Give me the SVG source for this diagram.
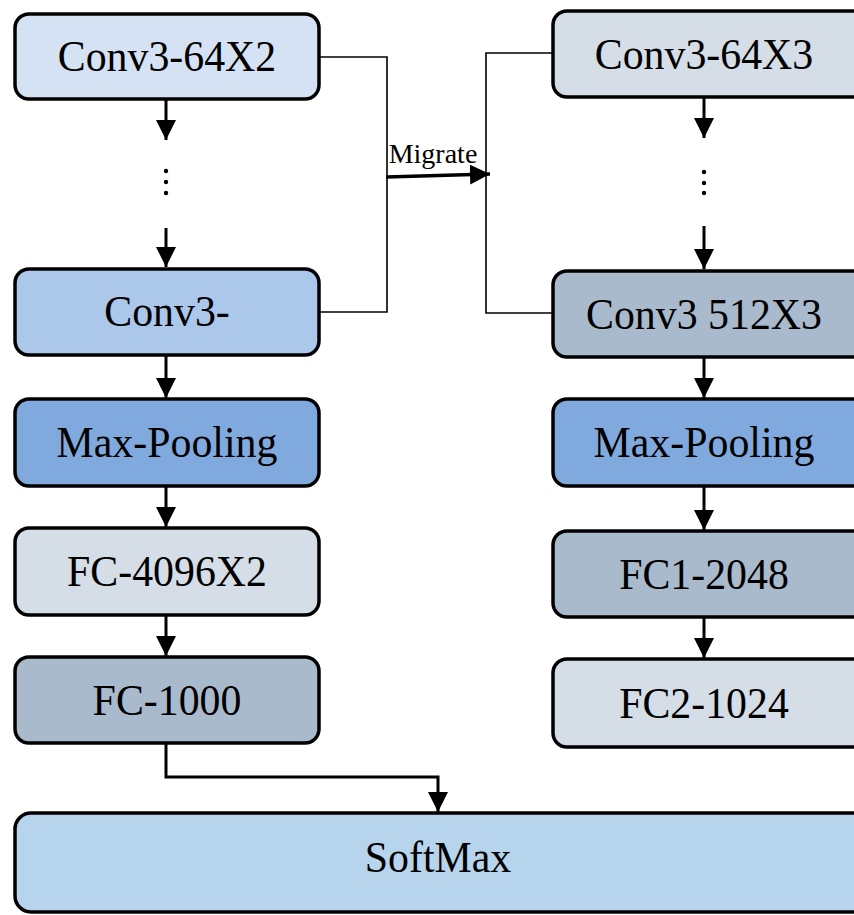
<svg xmlns="http://www.w3.org/2000/svg" width="854" height="915" viewBox="0 0 854 915" font-family="Liberation Serif, Times New Roman, serif">
<style>
.box{stroke:#000;stroke-width:3.5}
.t{font-size:45px;text-anchor:middle;fill:#000}
.c1{fill:#d5e2f3}.c2{fill:#abc7ea}.c3{fill:#80aadd}.c4{fill:#d5dde7}.c5{fill:#a9bacd}.c6{fill:#b6d4ec}
.ar{stroke:#000;stroke-width:3;fill:none}
.thin{stroke:#000;stroke-width:1.6;fill:none}
</style>
<defs>
<marker id="ah" markerUnits="userSpaceOnUse" markerWidth="20" markerHeight="20" viewBox="0 0 20 20" refX="20" refY="10" orient="auto">
<path d="M0,0 L20,10 L0,20 Z" fill="#000"/>
</marker>
</defs>
<g id="connectors">
<line class="ar" x1="166" y1="99" x2="166" y2="140" marker-end="url(#ah)"/>
<line class="ar" x1="166" y1="228" x2="166" y2="267" marker-end="url(#ah)"/>
<line class="ar" x1="166" y1="355" x2="166" y2="398" marker-end="url(#ah)"/>
<line class="ar" x1="166" y1="486" x2="166" y2="527" marker-end="url(#ah)"/>
<line class="ar" x1="166" y1="615" x2="166" y2="656" marker-end="url(#ah)"/>
<polyline class="ar" points="166,743 166,777 438,777 438,812" marker-end="url(#ah)"/>
<line class="ar" x1="704" y1="97" x2="704" y2="138" marker-end="url(#ah)"/>
<line class="ar" x1="704" y1="226" x2="704" y2="269" marker-end="url(#ah)"/>
<line class="ar" x1="704" y1="357" x2="704" y2="398" marker-end="url(#ah)"/>
<line class="ar" x1="704" y1="486" x2="704" y2="530" marker-end="url(#ah)"/>
<line class="ar" x1="704" y1="617" x2="704" y2="658" marker-end="url(#ah)"/>
<polyline class="thin" points="319,57 387,57 387,312 319,312"/>
<polyline class="thin" points="553,53 486,53 486,313 553,313"/>
<line x1="386" y1="177" x2="490" y2="174" stroke="#000" stroke-width="3.5" marker-end="url(#ah)"/>
<text x="433" y="163" font-family="Liberation Serif, Times New Roman, serif" font-size="28" text-anchor="middle">Migrate</text>
<g fill="#000">
<circle cx="166" cy="171" r="2.2"/><circle cx="166" cy="182" r="2.2"/><circle cx="166" cy="193" r="2.2"/>
<circle cx="704" cy="172" r="2.2"/><circle cx="704" cy="183" r="2.2"/><circle cx="704" cy="193" r="2.2"/>
</g>
</g>
<g id="n_conv3_64x2"><rect class="box c1" x="15" y="14" width="304" height="85" rx="14"/><text class="t" font-family="Liberation Serif, Times New Roman, serif" transform="translate(167,71) scale(0.93,1)">Conv3-64X2</text></g>
<g id="n_conv3"><rect class="box c2" x="15" y="269" width="304" height="86" rx="14"/><text class="t" font-family="Liberation Serif, Times New Roman, serif" transform="translate(167,326) scale(0.93,1)">Conv3-</text></g>
<g id="n_maxpool_l"><rect class="box c3" x="15" y="399" width="304" height="87" rx="14"/><text class="t" font-family="Liberation Serif, Times New Roman, serif" transform="translate(167,457) scale(0.93,1)">Max-Pooling</text></g>
<g id="n_fc4096"><rect class="box c4" x="15" y="528" width="304" height="87" rx="14"/><text class="t" font-family="Liberation Serif, Times New Roman, serif" transform="translate(167,586) scale(0.93,1)">FC-4096X2</text></g>
<g id="n_fc1000"><rect class="box c5" x="15" y="657" width="304" height="86" rx="14"/><text class="t" font-family="Liberation Serif, Times New Roman, serif" transform="translate(167,715) scale(0.93,1)">FC-1000</text></g>
<g id="n_conv3_64x3"><rect class="box c4" x="553" y="11" width="320" height="86" rx="14"/><text class="t" font-family="Liberation Serif, Times New Roman, serif" transform="translate(704,69) scale(0.93,1)">Conv3-64X3</text></g>
<g id="n_conv3_512x3"><rect class="box c5" x="553" y="271" width="320" height="86" rx="14"/><text class="t" font-family="Liberation Serif, Times New Roman, serif" transform="translate(704,329) scale(0.93,1)">Conv3 512X3</text></g>
<g id="n_maxpool_r"><rect class="box c3" x="553" y="399" width="320" height="87" rx="14"/><text class="t" font-family="Liberation Serif, Times New Roman, serif" transform="translate(704,457) scale(0.93,1)">Max-Pooling</text></g>
<g id="n_fc1_2048"><rect class="box c5" x="553" y="531" width="320" height="86" rx="14"/><text class="t" font-family="Liberation Serif, Times New Roman, serif" transform="translate(704,589) scale(0.93,1)">FC1-2048</text></g>
<g id="n_fc2_1024"><rect class="box c4" x="553" y="659" width="320" height="88" rx="14"/><text class="t" font-family="Liberation Serif, Times New Roman, serif" transform="translate(704,718) scale(0.93,1)">FC2-1024</text></g>
<g id="n_softmax"><rect class="box c6" x="15" y="813" width="860" height="99" rx="16"/><text class="t" font-family="Liberation Serif, Times New Roman, serif" transform="translate(438,872) scale(0.93,1)">SoftMax</text></g>
</svg>
